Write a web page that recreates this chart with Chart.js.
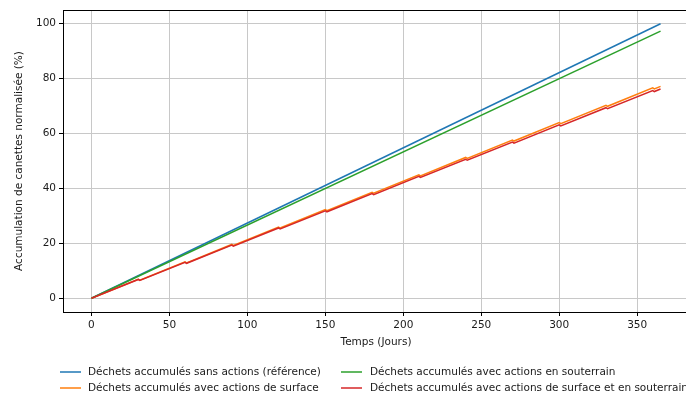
<!DOCTYPE html>
<html>
<head>
<meta charset="utf-8">
<script src="https://cdn.jsdelivr.net/npm/chart.js@4.4.1/dist/chart.umd.min.js"></script>
<style>
html,body{margin:0;padding:0;background:#fff;overflow:hidden;}
#wrap{width:690px;height:394px;position:relative;}
</style>
</head>
<body>
<div id="wrap"><canvas id="c" width="690" height="394"></canvas></div>
<script>
// ---- Data ----
const seriesLabels = [
  "Déchets accumulés sans actions (référence)",
  "Déchets accumulés avec actions de surface",
  "Déchets accumulés avec actions en souterrain",
  "Déchets accumulés avec actions de surface et en souterrain"
];
const seriesColors = ["#1f77b4", "#ff7f0e", "#2ca02c", "#d62728"];

const refDays = [0, 365];
const refValues = [0, 100];

const surfDays = [0, 30, 31, 60, 61, 90, 91, 120, 121, 150, 151, 180, 181, 210, 211, 240, 241, 270, 271, 300, 301, 330, 331, 360, 361, 365];
const surfValues = [0, 6.94, 6.57, 13.27, 12.90, 19.61, 19.24, 25.94, 25.58, 32.28, 31.91, 38.62, 38.25, 44.95, 44.58, 51.29, 50.92, 57.62, 57.26, 63.96, 63.59, 70.30, 69.93, 76.63, 76.26, 77.19];

const sousDays = [0, 365];
const sousValues = [0, 97.3];

const mixDays = [0, 30, 31, 60, 61, 90, 91, 120, 121, 150, 151, 180, 181, 210, 211, 240, 241, 270, 271, 300, 301, 330, 331, 360, 361, 365];
const mixValues = [0, 6.86, 6.48, 13.11, 12.74, 19.37, 18.99, 25.62, 25.25, 31.88, 31.50, 38.13, 37.76, 44.39, 44.01, 50.64, 50.27, 56.90, 56.52, 63.15, 62.78, 69.41, 69.03, 75.66, 75.29, 76.20];

const xTicks = [0, 50, 100, 150, 200, 250, 300, 350];
const yTicks = [0, 20, 40, 60, 80, 100];

const xTitle = "Temps (Jours)";
const yTitle = "Accumulation de canettes normalisée (%)";

// ---- Build ----
function pts(xs, ys) { return xs.map((x, i) => ({x: x, y: ys[i]})); }
const seriesData = [pts(refDays, refValues), pts(surfDays, surfValues), pts(sousDays, sousValues), pts(mixDays, mixValues)];

const FONT = "'DejaVu Sans', sans-serif";
const FS = 10.5;
const TXT = "#1a1a1a";

const framePlugin = {
  id: 'frameLegend',
  afterDatasetsDraw(chart) {
    const ctx = chart.ctx;
    const a = chart.chartArea;
    ctx.save();
    ctx.strokeStyle = '#000';
    ctx.lineWidth = 1;
    ctx.strokeRect(Math.round(a.left) + 0.5, Math.round(a.top) + 0.5, Math.round(a.right - a.left), Math.round(a.bottom - a.top));
    ctx.restore();
  },
  afterDraw(chart) {
    const ctx = chart.ctx;
    ctx.save();
    ctx.font = FS + "px " + FONT;
    ctx.textBaseline = 'middle';
    ctx.fillStyle = TXT;
    const cols = [{lx: 60, tx: 88}, {lx: 341, tx: 370}];
    const rows = [372, 388];
    // column-major order: col0 -> series 0,1 ; col1 -> series 2,3
    const order = [[0, 0, 0], [1, 0, 1], [2, 1, 0], [3, 1, 1]];
    order.forEach(([si, c, r]) => {
      const ds = chart.data.datasets[si];
      const y = rows[r];
      ctx.strokeStyle = ds.borderColor;
      ctx.lineWidth = 1.5;
      ctx.beginPath();
      ctx.moveTo(cols[c].lx, y);
      ctx.lineTo(cols[c].lx + 21, y);
      ctx.stroke();
      ctx.fillText(ds.label, cols[c].tx, y);
    });
    ctx.restore();
  }
};

new Chart(document.getElementById('c'), {
  type: 'line',
  data: {
    datasets: seriesData.map((d, i) => ({
      label: seriesLabels[i],
      data: d,
      borderColor: seriesColors[i],
      backgroundColor: seriesColors[i],
      borderWidth: 1.5,
      pointRadius: 0,
      fill: false,
      tension: 0,
      order: 4 - i
    }))
  },
  options: {
    responsive: false,
    animation: false,
    layout: {padding: {top: 10, right: 1, bottom: 42, left: 0}},
    plugins: {legend: {display: false}, tooltip: {enabled: false}},
    scales: {
      x: {
        type: 'linear',
        min: -18.25,
        max: 383.25,
        afterBuildTicks(s) { s.ticks = xTicks.map(v => ({value: v})); },
        afterFit(s) { s.height = 40; },
        grid: {color: '#c8c8c8', lineWidth: 1, tickLength: 4, tickColor: '#000'},
        border: {display: false},
        ticks: {font: {family: FONT, size: FS}, color: TXT, padding: 3, maxRotation: 0},
        title: {display: true, text: xTitle, font: {family: FONT, size: FS}, color: TXT, padding: {top: 0, bottom: 3}}
      },
      y: {
        type: 'linear',
        min: -5,
        max: 105,
        afterBuildTicks(s) { s.ticks = yTicks.map(v => ({value: v})); },
        afterFit(s) { s.width = 63; },
        grid: {color: '#c8c8c8', lineWidth: 1, tickLength: 4, tickColor: '#000'},
        border: {display: false},
        ticks: {font: {family: FONT, size: FS}, color: TXT, padding: 3},
        title: {display: true, text: yTitle, font: {family: FONT, size: FS}, color: TXT, padding: {top: 13, bottom: 0}}
      }
    }
  },
  plugins: [framePlugin]
});
</script>
</body>
</html>
